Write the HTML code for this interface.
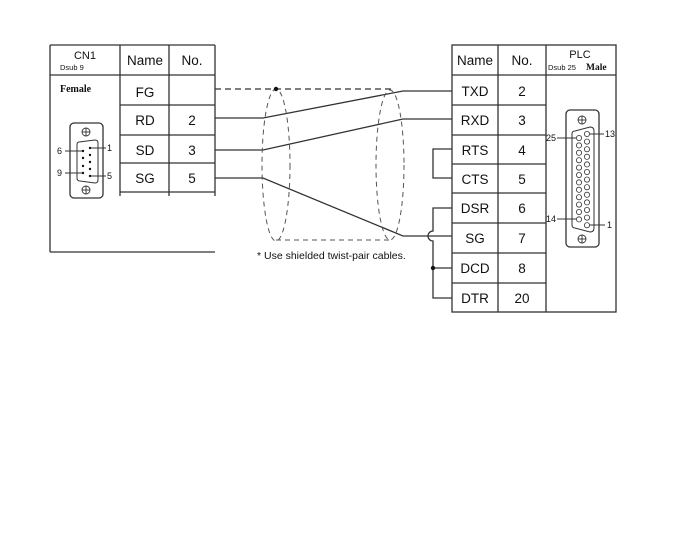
<!DOCTYPE html>
<html><head><meta charset="utf-8"><style>
html,body{margin:0;padding:0;background:#fff;width:691px;height:560px;overflow:hidden}
svg{display:block}
text{font-family:"Liberation Sans",Arial,sans-serif;fill:#111}
.s{font-family:"Liberation Serif",serif;font-weight:bold}
</style></head><body>
<svg width="691" height="560" viewBox="0 0 691 560" xmlns="http://www.w3.org/2000/svg">
<g stroke="#333" stroke-width="1.3" fill="none">
<line x1="50" y1="45" x2="215" y2="45"/>
<line x1="50" y1="45" x2="50" y2="252"/>
<line x1="50" y1="252" x2="215" y2="252"/>
<line x1="120" y1="45" x2="120" y2="196"/>
<line x1="169" y1="45" x2="169" y2="196"/>
<line x1="215" y1="45" x2="215" y2="196"/>
<line x1="50" y1="75" x2="215" y2="75"/>
<line x1="120" y1="105" x2="215" y2="105"/>
<line x1="120" y1="135" x2="215" y2="135"/>
<line x1="120" y1="163" x2="215" y2="163"/>
<line x1="120" y1="192" x2="215" y2="192"/>
<rect x="452" y="45" width="164" height="267"/>
<line x1="498" y1="45" x2="498" y2="312"/>
<line x1="546" y1="45" x2="546" y2="312"/>
<line x1="452" y1="75" x2="616" y2="75"/>
<line x1="452" y1="105" x2="546" y2="105"/>
<line x1="452" y1="135" x2="546" y2="135"/>
<line x1="452" y1="164" x2="546" y2="164"/>
<line x1="452" y1="193" x2="546" y2="193"/>
<line x1="452" y1="223" x2="546" y2="223"/>
<line x1="452" y1="253" x2="546" y2="253"/>
<line x1="452" y1="283" x2="546" y2="283"/>
<line x1="215" y1="89" x2="392" y2="89" stroke-dasharray="6,4"/>
<polyline points="215,118 263,118 403,91 452,91"/>
<polyline points="215,150 263,150 403,119 452,119"/>
<polyline points="215,178 263,178 403,236 452,236"/>
<polyline points="452,149 433,149 433,178 452,178"/>
<path d="M452 208 L433 208 L433 231 A5 5 0 0 0 433 241 L433 298 L452 298 M433 268 L452 268"/>
<ellipse cx="276" cy="165" rx="14" ry="76" stroke="#555" stroke-width="1" stroke-dasharray="5,4"/>
<ellipse cx="390" cy="165" rx="14" ry="75" stroke="#555" stroke-width="1" stroke-dasharray="5,4"/>
<line x1="276" y1="240" x2="390" y2="240" stroke="#555" stroke-width="1" stroke-dasharray="5,4"/>
<rect x="70" y="123" width="33" height="75" rx="4"/>
<path d="M79 142 L95 140 Q98 140 98 143 L98 180 Q98 183 95 183 L80 181 Q77 181 77 178 L77 145 Q77 142 79 142Z" stroke-width="1"/>
<line x1="65" y1="151" x2="83" y2="151" stroke-width="1"/>
<line x1="90" y1="148" x2="106" y2="148" stroke-width="1"/>
<line x1="65" y1="173" x2="83" y2="173" stroke-width="1"/>
<line x1="90" y1="176" x2="106" y2="176" stroke-width="1"/>
<rect x="566" y="110" width="33" height="137" rx="4"/>
<path d="M575 131 L590 127 Q594 127 594 131 L594 228 Q594 232 590 232 L575 228 Q572 228 572 225 L572 134 Q572 131 575 131Z" stroke-width="1"/>
<line x1="557" y1="138" x2="576" y2="138" stroke-width="1"/>
<line x1="589" y1="134" x2="604" y2="134" stroke-width="1"/>
<line x1="557" y1="219" x2="576" y2="219" stroke-width="1"/>
<line x1="589" y1="225" x2="605" y2="225" stroke-width="1"/>
</g>
<circle cx="276" cy="89" r="2.2" fill="#111"/>
<circle cx="433" cy="268" r="2.2" fill="#111"/>
<g fill="#111">
<circle cx="90" cy="148" r="1.2"/><circle cx="90" cy="155" r="1.2"/><circle cx="90" cy="162" r="1.2"/><circle cx="90" cy="169" r="1.2"/><circle cx="90" cy="176" r="1.2"/>
<circle cx="83" cy="151" r="1.2"/><circle cx="83" cy="158" r="1.2"/><circle cx="83" cy="166" r="1.2"/><circle cx="83" cy="173" r="1.2"/>
</g>
<g fill="#fff" stroke="#333" stroke-width="0.8">
<circle cx="587" cy="134" r="2.6"/><circle cx="587" cy="141.6" r="2.6"/><circle cx="587" cy="149.2" r="2.6"/><circle cx="587" cy="156.8" r="2.6"/><circle cx="587" cy="164.4" r="2.6"/><circle cx="587" cy="172" r="2.6"/><circle cx="587" cy="179.6" r="2.6"/><circle cx="587" cy="187.2" r="2.6"/><circle cx="587" cy="194.8" r="2.6"/><circle cx="587" cy="202.4" r="2.6"/><circle cx="587" cy="210" r="2.6"/><circle cx="587" cy="217.6" r="2.6"/><circle cx="587" cy="225.2" r="2.6"/>
<circle cx="579" cy="138" r="2.6"/><circle cx="579" cy="145.4" r="2.6"/><circle cx="579" cy="152.8" r="2.6"/><circle cx="579" cy="160.2" r="2.6"/><circle cx="579" cy="167.6" r="2.6"/><circle cx="579" cy="175" r="2.6"/><circle cx="579" cy="182.4" r="2.6"/><circle cx="579" cy="189.8" r="2.6"/><circle cx="579" cy="197.2" r="2.6"/><circle cx="579" cy="204.6" r="2.6"/><circle cx="579" cy="212" r="2.6"/><circle cx="579" cy="219.4" r="2.6"/>
</g>
<g fill="none" stroke="#333" stroke-width="0.9">
<circle cx="86" cy="132" r="4"/><line x1="82" y1="132" x2="90" y2="132"/><line x1="86" y1="128" x2="86" y2="136"/>
<circle cx="86" cy="190" r="4"/><line x1="82" y1="190" x2="90" y2="190"/><line x1="86" y1="186" x2="86" y2="194"/>
<circle cx="582" cy="120" r="4"/><line x1="578" y1="120" x2="586" y2="120"/><line x1="582" y1="116" x2="582" y2="124"/>
<circle cx="582" cy="239" r="4"/><line x1="578" y1="239" x2="586" y2="239"/><line x1="582" y1="235" x2="582" y2="243"/>
</g>
<text x="85" y="59" font-size="11" text-anchor="middle">CN1</text>
<text x="60" y="70" font-size="7.5">Dsub 9</text>
<text class="s" x="60" y="92" font-size="10">Female</text>
<g font-size="13.5" text-anchor="middle">
<text x="145" y="65">Name</text><text x="192" y="65">No.</text>
<text x="145" y="97">FG</text>
<text x="145" y="125">RD</text><text x="192" y="125">2</text>
<text x="145" y="155">SD</text><text x="192" y="155">3</text>
<text x="145" y="183">SG</text><text x="192" y="183">5</text>
<text x="475" y="65">Name</text><text x="522" y="65">No.</text>
<text x="475" y="96">TXD</text><text x="522" y="96">2</text>
<text x="475" y="125">RXD</text><text x="522" y="125">3</text>
<text x="475" y="155">RTS</text><text x="522" y="155">4</text>
<text x="475" y="184">CTS</text><text x="522" y="184">5</text>
<text x="475" y="213">DSR</text><text x="522" y="213">6</text>
<text x="475" y="243">SG</text><text x="522" y="243">7</text>
<text x="475" y="273">DCD</text><text x="522" y="273">8</text>
<text x="475" y="303">DTR</text><text x="522" y="303">20</text>
</g>
<text x="580" y="58" font-size="11" text-anchor="middle">PLC</text>
<text x="548" y="70" font-size="7.5">Dsub 25</text>
<text class="s" x="586" y="70" font-size="9.5">Male</text>
<g font-size="9">
<text x="57" y="154">6</text><text x="107" y="151">1</text>
<text x="57" y="176">9</text><text x="107" y="179">5</text>
<text x="546" y="141">25</text><text x="605" y="137">13</text>
<text x="546" y="222">14</text><text x="607" y="228">1</text>
</g>
<text x="257" y="259" font-size="10.5">* Use shielded twist-pair cables.</text>
</svg>
</body></html>
